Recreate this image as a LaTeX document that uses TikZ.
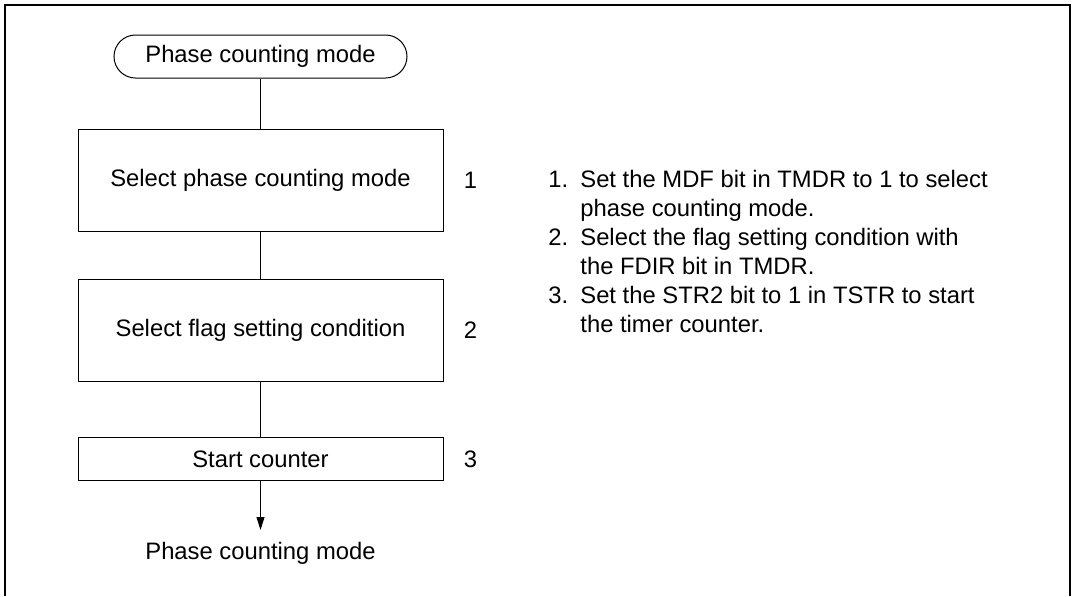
\documentclass[tikz,border=0pt]{standalone}
\usepackage{fontspec}
\setmainfont{Liberation Sans}
\usepackage{tikz}
\usetikzlibrary{arrows.meta, positioning}
\tikzset{
  stepbox/.style={rectangle, draw, line width=0.5pt, align=center,
                  minimum width=182.5pt, inner sep=0pt},
  terminal/.style={rectangle, draw, line width=0.5pt, rounded corners=10.75pt,
                   minimum width=146.5pt, minimum height=21.5pt, inner sep=0pt},
  stepnum/.style={inner sep=0pt},
  link/.style={line width=0.5pt},
  arrow/.style={-{Triangle[length=6.5pt, width=4pt]}, line width=0.5pt},
}

\begin{document}
\begin{tikzpicture}[every node/.style={font=\fontsize{11.9}{14.5}\selectfont}]
  \useasboundingbox (0pt,0pt) rectangle (536.5pt,-298pt);
  % outer frame, open at the bottom
  \draw[line width=1pt] (2.5pt,-298pt) |- (535pt,-2.5pt) -- (535pt,-298pt);

  \node[terminal] (start) at (130.25pt,-28.25pt) {Phase counting mode};
  \node[stepbox, minimum height=51pt, below=25.25pt of start] (mode) {Select phase counting mode};
  \node[stepbox, minimum height=51pt, below=23.5pt of mode] (flag) {Select flag setting condition};
  \node[stepbox, minimum height=21.5pt, below=27.5pt of flag] (cnt) {Start counter};
  \node[inner sep=6pt, below=24.5pt of cnt] (end) {Phase counting mode};

  \node[stepnum, right=10pt of mode] (n1) {1};
  \node[stepnum, right=10pt of flag] (n2) {2};
  \node[stepnum, right=10pt of cnt]  (n3) {3};

  \node[inner sep=0pt, anchor=base west] (notes) at (274pt,-93.7pt) {%
    \begin{tabular}[t]{@{}p{16pt}@{}l@{}}
      1. & Set the MDF bit in TMDR to 1 to select\\
         & phase counting mode.\\
      2. & Select the flag setting condition with\\
         & the FDIR bit in TMDR.\\
      3. & Set the STR2 bit to 1 in TSTR to start\\
         & the timer counter.
    \end{tabular}};

  \draw[link]  (start) -- (mode);
  \draw[link]  (mode)  -- (flag);
  \draw[link]  (flag)  -- (cnt);
  \draw[arrow] (cnt)   -- (end);
\end{tikzpicture}
\end{document}
